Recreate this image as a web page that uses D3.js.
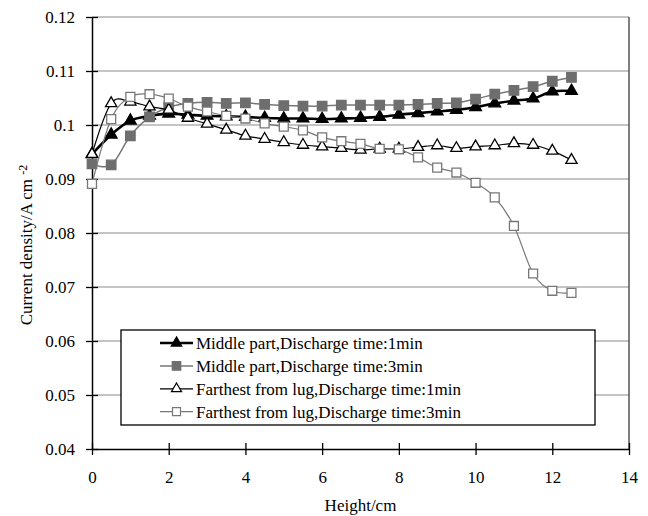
<!DOCTYPE html>
<html>
<head>
<meta charset="utf-8">
<script src="https://cdn.jsdelivr.net/npm/d3@7"></script>
<style>
  body { margin: 0; background: #fff; }
  svg { display: block; font-family: "Liberation Serif", "Times New Roman", serif; }
</style>
</head>
<body>
<div id="chart"></div>
<script>
// data
var heights = [0, 0.5, 1, 1.5, 2, 2.5, 3, 3.5, 4, 4.5, 5, 5.5, 6, 6.5, 7, 7.5, 8, 8.5, 9, 9.5, 10, 10.5, 11, 11.5, 12, 12.5];

var middle1 = [0.0946, 0.0982, 0.1008, 0.1017, 0.1021, 0.1019, 0.1017, 0.1016, 0.1015, 0.1013, 0.1012, 0.1012, 0.1011, 0.1012,
	0.1013, 0.1015, 0.1019, 0.1022, 0.1025, 0.1028, 0.1033, 0.1040, 0.1045, 0.1049, 0.1062, 0.1063];
var middle3 = [0.0928, 0.0926, 0.0980, 0.1015, 0.1033, 0.1040, 0.1042, 0.1040, 0.1041, 0.1038, 0.1036, 0.1035, 0.1035, 0.1037,
	0.1037, 0.1037, 0.1037, 0.1038, 0.1040, 0.1041, 0.1048, 0.1057, 0.1064, 0.1071, 0.1081, 0.1088];
var far1 = [0.0946, 0.1040, 0.1043, 0.1034, 0.1028, 0.1013, 0.1002, 0.0991, 0.0980, 0.0974, 0.0968, 0.0963, 0.0960, 0.0957,
	0.0954, 0.0956, 0.0956, 0.0959, 0.0962, 0.0957, 0.0960, 0.0962, 0.0966, 0.0963, 0.0952, 0.0935];
var far3 = [0.0891, 0.1011, 0.1052, 0.1057, 0.1049, 0.1034, 0.1025, 0.1017, 0.1012, 0.1003, 0.0997, 0.0990, 0.0977, 0.0970,
	0.0965, 0.0956, 0.0955, 0.0940, 0.0921, 0.0912, 0.0893, 0.0866, 0.0813, 0.0725, 0.0693, 0.0689];

var seriesNames = [
	"Middle part,Discharge time:1min",
	"Middle part,Discharge time:3min",
	"Farthest from lug,Discharge time:1min",
	"Farthest from lug,Discharge time:3min"
];
var xTickLabels = ["0", "2", "4", "6", "8", "10", "12", "14"];
var yTickLabels = ["0.04", "0.05", "0.06", "0.07", "0.08", "0.09", "0.1", "0.11", "0.12"];

var width = 648,
	height = 516,
	FONT = 17,
	TICK = 6;

var margin = { left: 92, right: 19, top: 17, bottom: 67 };

// one style per series, same order as seriesNames
var styles = [
	{ values: middle1, stroke: "#000", lineWidth: 2.6, symbol: d3.symbolTriangle, size: 60, fill: "#000", mstroke: "#000" },
	{ values: middle3, stroke: "#777", lineWidth: 1.5, symbol: d3.symbolSquare, size: 90, fill: "#6e6e6e", mstroke: "#6e6e6e" },
	{ values: far1, stroke: "#000", lineWidth: 1.2, symbol: d3.symbolTriangle, size: 55, fill: "#fff", mstroke: "#000" },
	{ values: far3, stroke: "#777", lineWidth: 1.2, symbol: d3.symbolSquare, size: 80, fill: "#fff", mstroke: "#777" }
];

var svg = d3.select("#chart").append("svg")
	.attr("width", width)
	.attr("height", height);

svg.append("rect").attr("width", width).attr("height", height).attr("fill", "#fff");

var x = d3.scaleLinear()
	.domain([0, 14])
	.range([margin.left, width - margin.right]);

var y = d3.scaleLinear()
	.domain([0.04, 0.12])
	.range([height - margin.bottom, margin.top]);

var yTicks = yTickLabels.map(Number);
var xTicks = xTickLabels.map(Number);

// horizontal gridlines
svg.append("g")
	.selectAll("line")
	.data(yTicks.slice(1))
	.enter()
	.append("line")
	.attr("x1", x(0))
	.attr("x2", x(14))
	.attr("y1", function(d) { return y(d); })
	.attr("y2", function(d) { return y(d); })
	.style("stroke", "#8a8a8a")
	.style("stroke-width", 1.2);

// right border of the plot area
svg.append("line")
	.attr("x1", x(14)).attr("x2", x(14))
	.attr("y1", y(0.12)).attr("y2", y(0.04))
	.style("stroke", "#555")
	.style("stroke-width", 1.5);

// axes
var yAxis = svg.append("g")
	.attr("transform", "translate(" + x(0) + ",0)")
	.call(d3.axisLeft(y)
		.tickValues(yTicks)
		.tickFormat(function(d, i) { return yTickLabels[i]; })
		.tickSize(TICK)
		.tickPadding(11)
		.tickSizeOuter(0));

var xAxis = svg.append("g")
	.attr("transform", "translate(0," + y(0.04) + ")")
	.call(d3.axisBottom(x)
		.tickValues(xTicks)
		.tickFormat(function(d, i) { return xTickLabels[i]; })
		.tickSize(TICK)
		.tickPadding(16)
		.tickSizeOuter(0));

// the ticks cross the axis line, like the original
yAxis.selectAll(".tick").append("line").attr("x2", TICK).attr("stroke", "#000");
xAxis.selectAll(".tick").append("line").attr("y2", -TICK).attr("stroke", "#000");

[yAxis, xAxis].forEach(function(ax) {
	ax.select(".domain").style("stroke", "#000").style("stroke-width", 1.5);
	ax.selectAll(".tick line").style("stroke-width", 1.3);
	ax.selectAll("text")
		.style("font-family", "Liberation Serif")
		.style("font-size", FONT + "px")
		.style("fill", "#000");
});

// axis titles
svg.append("text")
	.attr("x", (x(0) + x(14)) / 2)
	.attr("y", 511)
	.style("text-anchor", "middle")
	.style("font-size", FONT + "px")
	.text("Height/cm");

var yTitle = svg.append("text")
	.attr("transform", "translate(32," + 245 + ") rotate(-90)")
	.style("text-anchor", "middle")
	.style("font-size", FONT + "px");
yTitle.append("tspan").text("Current density/A cm ");
yTitle.append("tspan")
	.attr("dy", "-0.45em")
	.style("font-size", "12px")
	.text("-2");

// series: smooth lines and markers
var line = d3.line()
	.x(function(d, i) { return x(heights[i]); })
	.y(function(d) { return y(d); })
	.curve(d3.curveCardinal.tension(0));

var plot = svg.append("g");

styles.forEach(function(s, k) {
	var g = plot.append("g").attr("class", "series_" + k);

	g.append("path")
		.datum(s.values)
		.attr("d", line)
		.style("fill", "none")
		.style("stroke", s.stroke)
		.style("stroke-width", s.lineWidth);

	g.selectAll(".marker")
		.data(s.values)
		.enter()
		.append("path")
		.attr("class", "marker")
		.attr("transform", function(d, i) { return "translate(" + x(heights[i]) + "," + y(d) + ")"; })
		.attr("d", d3.symbol().type(s.symbol).size(s.size))
		.style("fill", s.fill)
		.style("stroke", s.mstroke)
		.style("stroke-width", 1.3);
});

// legend
var legend = svg.append("g");

legend.append("rect")
	.attr("x", 121)
	.attr("y", 330)
	.attr("width", 474)
	.attr("height", 95)
	.style("fill", "#fff")
	.style("stroke", "#000")
	.style("stroke-width", 1.3);

var items = legend.selectAll(".item")
	.data(styles)
	.enter()
	.append("g")
	.attr("class", "item")
	.attr("transform", function(d, i) { return "translate(0," + (343 + i * 22.9) + ")"; });

items.append("line")
	.attr("x1", 160)
	.attr("x2", 193)
	.style("stroke", function(d) { return d.stroke; })
	.style("stroke-width", function(d) { return d.lineWidth; });

items.append("path")
	.attr("transform", "translate(176.5,0)")
	.attr("d", function(d) { return d3.symbol().type(d.symbol).size(d.size * 0.8)(); })
	.style("fill", function(d) { return d.fill; })
	.style("stroke", function(d) { return d.mstroke; })
	.style("stroke-width", 1.2);

items.append("text")
	.attr("x", 196)
	.attr("dy", "0.35em")
	.style("font-size", FONT + "px")
	.text(function(d, i) { return seriesNames[i]; });
</script>
</body>
</html>
